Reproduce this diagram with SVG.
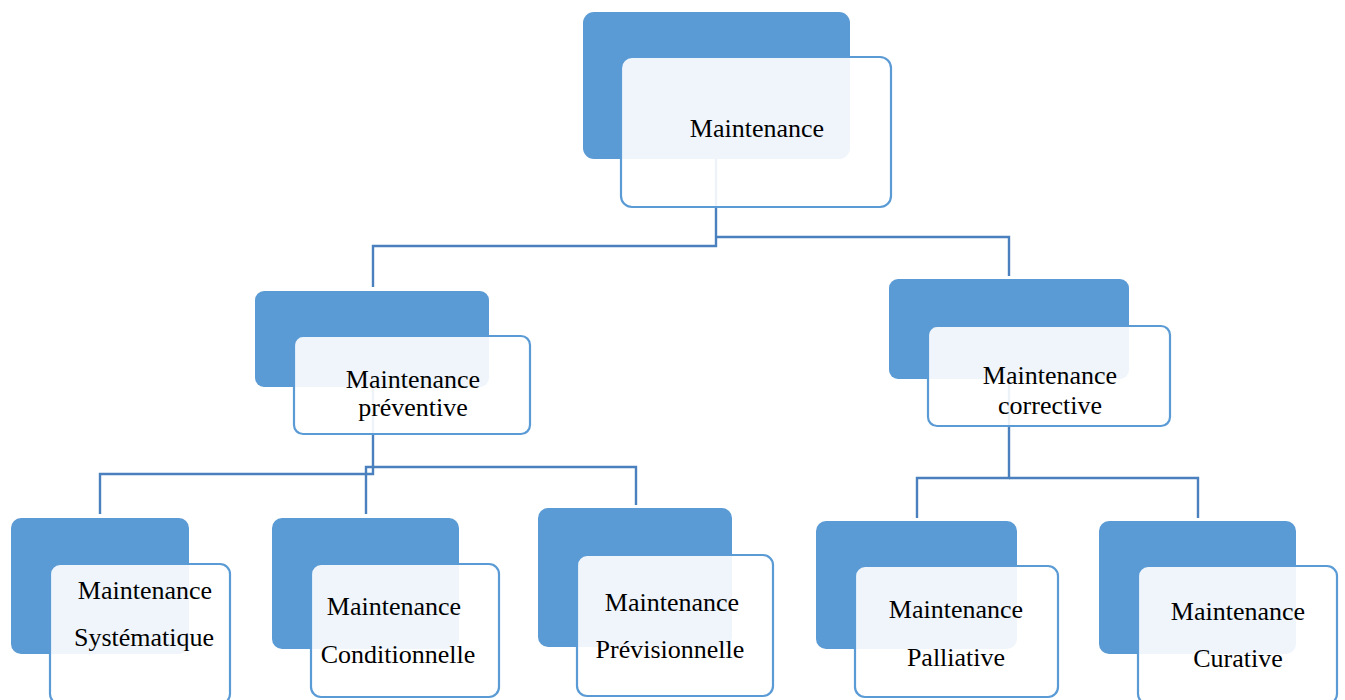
<svg xmlns="http://www.w3.org/2000/svg" width="1345" height="700" viewBox="0 0 1345 700">
<style>
.back{fill:#5B9BD5;}
.front{fill:#FFFFFF;fill-opacity:0.9;stroke:#5B9BD5;stroke-width:2.2;}
.conn{fill:none;stroke:#4A80BE;stroke-width:2.4;}
text{font-family:"Liberation Serif","Times New Roman",serif;font-size:26px;fill:#000;text-anchor:middle;}
</style>
<rect width="1345" height="700" fill="#FFFFFF"/>
<g id="connectors">
<path class="conn" d="M716 159 V246 H373 V287"/>
<path class="conn" d="M716 237 H1009 V276"/>
<path class="conn" d="M373 387 V474 H100 V514"/>
<path class="conn" d="M366 514 V467 H636 V505"/>
<path class="conn" d="M1009 379 V478 H917 V518"/>
<path class="conn" d="M1009 478 H1198 V518"/>
</g>
<g id="n-maintenance">
<rect class="back" x="583" y="12" width="267" height="147" rx="11"/>
<rect class="front" x="621" y="57" width="270" height="150" rx="11"/>
<text x="757" y="137">Maintenance</text>
</g>
<g id="n-preventive">
<rect class="back" x="255" y="291" width="234" height="96" rx="9"/>
<rect class="front" x="294" y="336" width="236" height="98" rx="9"/>
<text x="413" y="388">Maintenance</text>
<text x="413" y="416">préventive</text>
</g>
<g id="n-corrective">
<rect class="back" x="889" y="279" width="240" height="100" rx="9"/>
<rect class="front" x="928" y="326" width="242" height="100" rx="9"/>
<text x="1050" y="384">Maintenance</text>
<text x="1050" y="414">corrective</text>
</g>
<g id="n-systematique">
<rect class="back" x="11" y="518" width="178" height="136" rx="10"/>
<rect class="front" x="50" y="564" width="180" height="140" rx="10"/>
<text x="145" y="599">Maintenance</text>
<text x="144" y="646">Systématique</text>
</g>
<g id="n-conditionnelle">
<rect class="back" x="272" y="518" width="187" height="131" rx="10"/>
<rect class="front" x="311" y="564" width="188" height="133" rx="10"/>
<text x="394" y="615">Maintenance</text>
<text x="398" y="663">Conditionnelle</text>
</g>
<g id="n-previsionnelle">
<rect class="back" x="538" y="508" width="194" height="139" rx="10"/>
<rect class="front" x="577" y="555" width="196" height="141" rx="10"/>
<text x="672" y="611">Maintenance</text>
<text x="670" y="658">Prévisionnelle</text>
</g>
<g id="n-palliative">
<rect class="back" x="816" y="521" width="201" height="128" rx="10"/>
<rect class="front" x="855" y="566" width="203" height="131" rx="10"/>
<text x="956" y="618">Maintenance</text>
<text x="956" y="666">Palliative</text>
</g>
<g id="n-curative">
<rect class="back" x="1099" y="521" width="197" height="133" rx="10"/>
<rect class="front" x="1138" y="566" width="199" height="138" rx="10"/>
<text x="1238" y="620">Maintenance</text>
<text x="1238" y="667">Curative</text>
</g>
</svg>
